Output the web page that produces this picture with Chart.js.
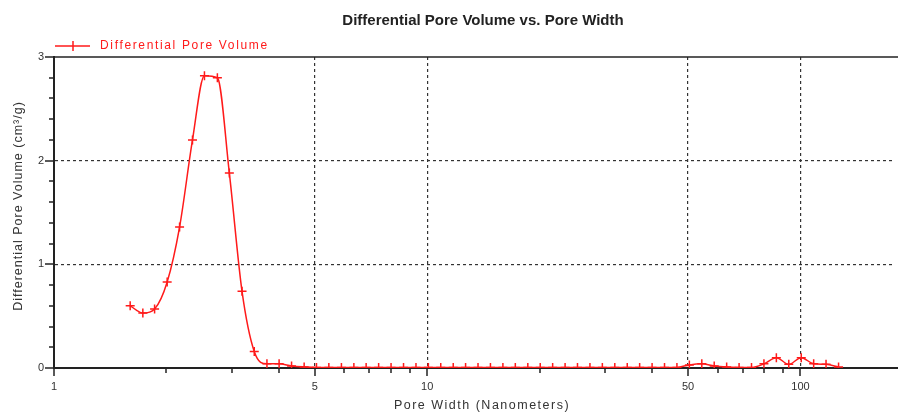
<!DOCTYPE html>
<html>
<head>
<meta charset="utf-8">
<title>Differential Pore Volume vs. Pore Width</title>
<script src="https://cdn.jsdelivr.net/npm/chart.js@4.4.0/dist/chart.umd.min.js"></script>
<style>
    html, body { margin: 0; padding: 0; background: #fff; overflow: hidden; }
    #wrap { width: 899px; height: 414px; position: relative; }
</style>
</head>
<body>
<div id="wrap"><canvas id="pore-chart"></canvas></div>
<script>
// values
const poreWidth = [
    1.60, 1.73, 1.86, 2.01, 2.17, 2.35, 2.53, 2.74, 2.95, 3.19,
    3.44, 3.72, 4.01, 4.33, 4.68, 5.05, 5.45, 5.89, 6.36, 6.86,
    7.41, 8.00, 8.64, 9.33, 10.07, 10.87, 11.74, 12.67, 13.68, 14.77,
    15.95, 17.22, 18.60, 20.08, 21.68, 23.41, 25.27, 27.29, 29.46, 31.81,
    34.35, 37.08, 40.04, 43.23, 46.67, 50.39, 54.41, 58.74, 63.43, 68.48,
    73.94, 79.83, 86.19, 93.05, 100.5, 108.5, 117.1, 126.5
];
const poreVolume = [
    0.60, 0.53, 0.57, 0.83, 1.36, 2.20, 2.82, 2.80, 1.88, 0.74,
    0.16, 0.04, 0.04, 0.02, 0.01, 0.004, 0.004, 0.004, 0.004, 0.004,
    0.004, 0.004, 0.004, 0.004, 0.004, 0.004, 0.004, 0.004, 0.004, 0.004,
    0.004, 0.004, 0.004, 0.004, 0.004, 0.004, 0.004, 0.004, 0.004, 0.004,
    0.004, 0.004, 0.004, 0.005, 0.006, 0.03, 0.04, 0.02, 0.01, 0.006,
    0.005, 0.04, 0.10, 0.035, 0.10, 0.04, 0.035, 0.01
];

const xMajorTicks = [1, 5, 10, 50, 100];
const xMinorTicks = [2, 3, 4, 6, 7, 8, 9, 20, 30, 40, 60, 70, 80, 90];
const xGridLines = [5, 10, 50, 100];
const yMajorTicks = [0, 1, 2, 3];
const yMinorTicks = [0.2, 0.4, 0.6, 0.8, 1.2, 1.4, 1.6, 1.8, 2.2, 2.4, 2.6, 2.8];
const yGridLines = [1, 2];

const RED = '#ff1a1a';
const AXIS = '#222';
const FONT = '"Liberation Sans", Arial, sans-serif';
const FRAME_RIGHT = 898;

// tick marks, frame, title, legend and axis titles
const decorPlugin = {
    id: 'decor',
    afterDraw(chart) {
        const { ctx, chartArea } = chart;
        const xs = chart.scales.x;
        const ys = chart.scales.y;
        const line = (x1, y1, x2, y2) => {
            ctx.beginPath();
            ctx.moveTo(x1, y1);
            ctx.lineTo(x2, y2);
            ctx.stroke();
        };
        ctx.save();
        ctx.strokeStyle = AXIS;
        ctx.lineWidth = 1.5;
        line(chartArea.left, chartArea.top, FRAME_RIGHT, chartArea.top);
        ctx.lineWidth = 2;
        line(chartArea.right - 1, chartArea.bottom, FRAME_RIGHT, chartArea.bottom);
        ctx.lineWidth = 1.5;

        xMajorTicks.forEach(v => {
            const px = Math.round(xs.getPixelForValue(v));
            line(px, chartArea.bottom, px, chartArea.bottom + 8);
        });
        xMinorTicks.forEach(v => {
            const px = Math.round(xs.getPixelForValue(v));
            line(px, chartArea.bottom, px, chartArea.bottom + 5);
        });
        yMajorTicks.forEach(v => {
            const py = Math.round(ys.getPixelForValue(v));
            line(chartArea.left - 9, py, chartArea.left, py);
        });
        yMinorTicks.forEach(v => {
            const py = Math.round(ys.getPixelForValue(v));
            line(chartArea.left - 5, py, chartArea.left, py);
        });

        // title
        ctx.fillStyle = '#222';
        ctx.font = 'bold 15px ' + FONT;
        ctx.textAlign = 'center';
        ctx.textBaseline = 'middle';
        ctx.fillText('Differential Pore Volume vs. Pore Width', 483, 21);

        // legend
        ctx.strokeStyle = RED;
        ctx.lineWidth = 1.5;
        line(55, 46, 90, 46);
        line(73, 41, 73, 51);
        ctx.fillStyle = RED;
        ctx.font = '12px ' + FONT;
        ctx.letterSpacing = '1.65px';
        ctx.textAlign = 'left';
        ctx.fillText('Differential Pore Volume', 100, 46);

        // axis titles
        ctx.fillStyle = '#333';
        ctx.font = '12.5px ' + FONT;
        ctx.letterSpacing = '1.5px';
        ctx.textAlign = 'center';
        ctx.fillText('Pore Width (Nanometers)', 482, 406);
        ctx.letterSpacing = '1px';
        ctx.translate(19, 206);
        ctx.rotate(-Math.PI / 2);
        ctx.fillText('Differential Pore Volume (cm\u00B3/g)', 0, 0);
        ctx.restore();
    }
};

new Chart(document.getElementById('pore-chart'), {
    type: 'line',
    data: {
        datasets: [{
            label: 'Differential Pore Volume',
            data: poreWidth.map((w, i) => ({ x: w, y: poreVolume[i] })),
            borderColor: RED,
            backgroundColor: RED,
            borderWidth: 1.5,
            pointStyle: 'cross',
            pointRadius: 4.5,
            pointBorderWidth: 1.5,
            cubicInterpolationMode: 'monotone',
            fill: false
        }]
    },
    options: {
        responsive: true,
        maintainAspectRatio: false,
        animation: false,
        layout: { padding: { top: 57, right: 1, left: 0, bottom: 0 } },
        plugins: {
            legend: { display: false },
            title: { display: false },
            tooltip: { enabled: false }
        },
        scales: {
            x: {
                type: 'logarithmic',
                min: 1,
                max: 177,
                afterFit: s => {
                    s.height = 46;
                    s.paddingLeft = 0;
                    s.paddingRight = 0;
                },
                afterBuildTicks: s => {
                    s.ticks = xMajorTicks.concat(xMinorTicks).sort((a, b) => a - b).map(v => ({ value: v }));
                },
                ticks: {
                    autoSkip: false,
                    maxRotation: 0,
                    padding: 12,
                    color: '#333',
                    font: { family: FONT, size: 11 },
                    callback: v => xMajorTicks.includes(v) ? String(v) : ''
                },
                grid: {
                    drawTicks: false,
                    lineWidth: 1.2,
                    color: c => (c.tick && xGridLines.includes(c.tick.value)) ? '#333' : 'rgba(0,0,0,0)'
                },
                border: { display: true, color: AXIS, width: 2, dash: [3, 3] }
            },
            y: {
                type: 'linear',
                min: 0,
                max: 3,
                afterFit: s => {
                    s.width = 54;
                    s.paddingTop = 0;
                    s.paddingBottom = 0;
                },
                afterBuildTicks: s => {
                    s.ticks = yMajorTicks.concat(yMinorTicks).sort((a, b) => a - b).map(v => ({ value: v }));
                },
                ticks: {
                    autoSkip: false,
                    padding: 10,
                    color: '#333',
                    font: { family: FONT, size: 11 },
                    callback: v => yMajorTicks.includes(v) ? String(v) : ''
                },
                grid: {
                    drawTicks: false,
                    lineWidth: 1.2,
                    color: c => (c.tick && yGridLines.includes(c.tick.value)) ? '#333' : 'rgba(0,0,0,0)'
                },
                border: { display: true, color: AXIS, width: 2, dash: [3, 3] }
            }
        }
    },
    plugins: [decorPlugin]
});
</script>
</body>
</html>
